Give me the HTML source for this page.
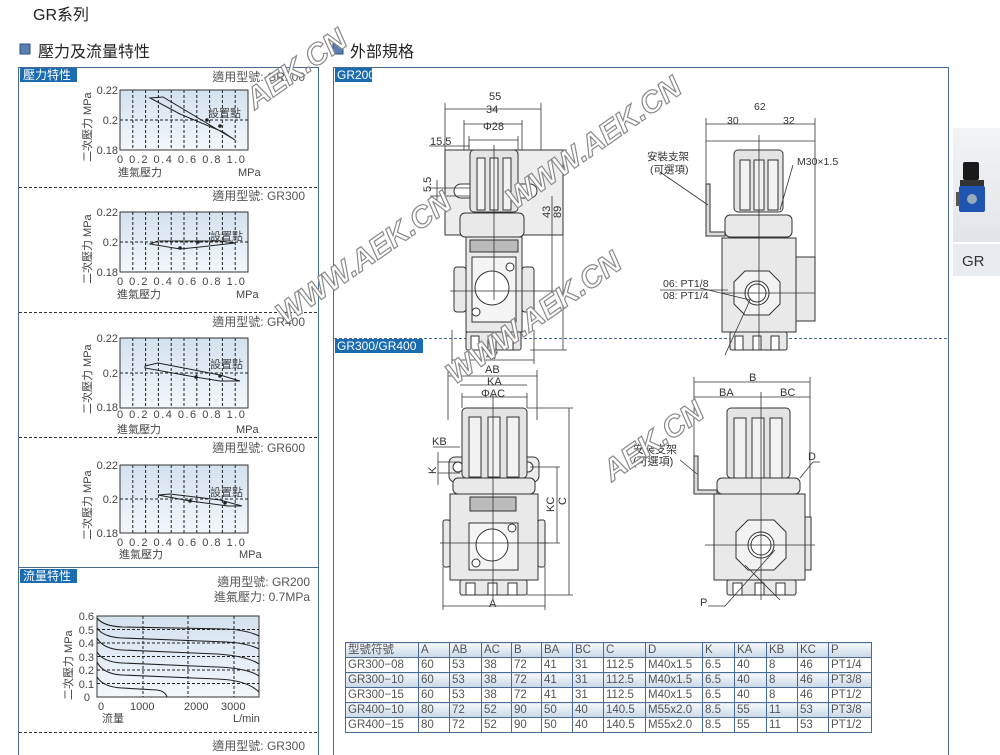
<!DOCTYPE html>
<html><head><meta charset="utf-8"><style>
html,body{margin:0;padding:0;background:#fff;}
body{width:1000px;height:755px;position:relative;overflow:hidden;font-family:"Liberation Sans","Noto Sans CJK TC",sans-serif;}
svg{position:absolute;left:0;top:0;}
svg text{font-family:"Liberation Sans","Noto Sans CJK TC",sans-serif;}
table{position:absolute;left:345px;top:642px;border-collapse:collapse;font-size:11.5px;color:#555;table-layout:fixed;}
td{border:1px solid #4a6a96;height:14px;padding:0 0 0 2px;line-height:14px;white-space:nowrap;overflow:hidden;}
tr.h td{background:linear-gradient(#f4f8fb,#c9d8e6);}
</style></head><body>
<svg width="1000" height="755" viewBox="0 0 1000 755">
<defs>
<linearGradient id="cg" x1="0" y1="0" x2="0" y2="1"><stop offset="0" stop-color="#d3e1ee"/><stop offset="1" stop-color="#f3f7fb"/></linearGradient>
<linearGradient id="sb" x1="0" y1="0" x2="0" y2="1"><stop offset="0" stop-color="#f2f3f5"/><stop offset="1" stop-color="#e2e5ea"/></linearGradient>
</defs>
<text x="33" y="20" font-size="16" fill="#222">GR系列</text>
<rect x="20" y="44" width="10" height="10" fill="#5b7fb2" stroke="#2d4f80"/>
<text x="38" y="57" font-size="16" fill="#222">壓力及流量特性</text>
<rect x="333" y="44" width="10" height="10" fill="#5b7fb2" stroke="#2d4f80"/>
<text x="350" y="57" font-size="16" fill="#222">外部規格</text>

<rect x="18.5" y="67.5" width="300" height="700" fill="none" stroke="#4a6a96"/>
<rect x="20" y="68" width="57" height="14" fill="#1a6bb0"/>
<text x="23" y="79" font-size="12" fill="#fff">壓力特性</text>
<g stroke="#333" stroke-dasharray="3,2" fill="none">
<line x1="19" y1="187.5" x2="318" y2="187.5"/><line x1="19" y1="312.5" x2="318" y2="312.5"/>
<line x1="19" y1="437.5" x2="318" y2="437.5"/><line x1="19" y1="732.5" x2="318" y2="732.5"/>
</g>
<line x1="19" y1="567.5" x2="318" y2="567.5" stroke="#4a6a96"/>

<g font-size="12" fill="#555" text-anchor="end">
<text x="305" y="81">適用型號: GR200</text>
<text x="305" y="200">適用型號: GR300</text>
<text x="305" y="326">適用型號: GR400</text>
<text x="305" y="452">適用型號: GR600</text>
<text x="310" y="586">適用型號: GR200</text>
<text x="310" y="601">進氣壓力: 0.7MPa</text>
<text x="305" y="750">適用型號: GR300</text>
</g>

<g transform="translate(120,90)">
<rect x="0" y="0" width="128" height="60" fill="url(#cg)" stroke="#333"/>
<g stroke="#222" stroke-dasharray="3,2"><line x1="12.8" y1="0" x2="12.8" y2="60"/><line x1="25.6" y1="0" x2="25.6" y2="60"/><line x1="38.4" y1="0" x2="38.4" y2="60"/><line x1="51.2" y1="0" x2="51.2" y2="60"/><line x1="64" y1="0" x2="64" y2="60"/><line x1="76.8" y1="0" x2="76.8" y2="60"/><line x1="89.6" y1="0" x2="89.6" y2="60"/><line x1="102.4" y1="0" x2="102.4" y2="60"/><line x1="115.2" y1="0" x2="115.2" y2="60"/><line x1="0" y1="30" x2="128" y2="30"/></g>
<path d="M30,8 L43,7 L115,50 L103,42 L60,24 L30,8Z" fill="none" stroke="#222"/>
<circle cx="87" cy="30" r="1.8" fill="#222"/><circle cx="100" cy="36" r="1.8" fill="#222"/>
<text x="88" y="27" font-size="11" fill="#444">設置點</text>
</g>
<g transform="translate(120,212)">
<rect x="0" y="0" width="128" height="60" fill="url(#cg)" stroke="#333"/>
<g stroke="#222" stroke-dasharray="3,2"><line x1="12.8" y1="0" x2="12.8" y2="60"/><line x1="25.6" y1="0" x2="25.6" y2="60"/><line x1="38.4" y1="0" x2="38.4" y2="60"/><line x1="51.2" y1="0" x2="51.2" y2="60"/><line x1="64" y1="0" x2="64" y2="60"/><line x1="76.8" y1="0" x2="76.8" y2="60"/><line x1="89.6" y1="0" x2="89.6" y2="60"/><line x1="102.4" y1="0" x2="102.4" y2="60"/><line x1="115.2" y1="0" x2="115.2" y2="60"/><line x1="0" y1="30" x2="128" y2="30"/></g>
<path d="M30,32 L38,29 L100,29 L115,31 L80,35 L60,37 L30,32Z" fill="none" stroke="#222"/>
<circle cx="78" cy="30" r="1.8" fill="#222"/><circle cx="60" cy="36" r="1.8" fill="#222"/>
<text x="90" y="28" font-size="11" fill="#444">設置點</text>
</g>
<g transform="translate(120,338)">
<rect x="0" y="0" width="128" height="70" fill="url(#cg)" stroke="#333"/>
<g stroke="#222" stroke-dasharray="3,2"><line x1="12.8" y1="0" x2="12.8" y2="70"/><line x1="25.6" y1="0" x2="25.6" y2="70"/><line x1="38.4" y1="0" x2="38.4" y2="70"/><line x1="51.2" y1="0" x2="51.2" y2="70"/><line x1="64" y1="0" x2="64" y2="70"/><line x1="76.8" y1="0" x2="76.8" y2="70"/><line x1="89.6" y1="0" x2="89.6" y2="70"/><line x1="102.4" y1="0" x2="102.4" y2="70"/><line x1="115.2" y1="0" x2="115.2" y2="70"/><line x1="0" y1="35" x2="128" y2="35"/></g>
<path d="M25,28 L38,25 L100,37 L120,43 L100,43 L75,39 L25,30Z" fill="none" stroke="#222"/>
<circle cx="76" cy="39" r="1.8" fill="#222"/><circle cx="100" cy="38" r="1.8" fill="#222"/>
<text x="90" y="30" font-size="11" fill="#444">設置點</text>
</g>
<g transform="translate(120,465)">
<rect x="0" y="0" width="128" height="68" fill="url(#cg)" stroke="#333"/>
<g stroke="#222" stroke-dasharray="3,2"><line x1="12.8" y1="0" x2="12.8" y2="68"/><line x1="25.6" y1="0" x2="25.6" y2="68"/><line x1="38.4" y1="0" x2="38.4" y2="68"/><line x1="51.2" y1="0" x2="51.2" y2="68"/><line x1="64" y1="0" x2="64" y2="68"/><line x1="76.8" y1="0" x2="76.8" y2="68"/><line x1="89.6" y1="0" x2="89.6" y2="68"/><line x1="102.4" y1="0" x2="102.4" y2="68"/><line x1="115.2" y1="0" x2="115.2" y2="68"/><line x1="0" y1="34" x2="128" y2="34"/></g>
<path d="M38,30 L50,29 L100,35 L122,41 L108,41 L70,36 L38,30Z" fill="none" stroke="#222"/>
<circle cx="70" cy="36" r="1.8" fill="#222"/><circle cx="105" cy="38" r="1.8" fill="#222"/>
<text x="90" y="31" font-size="11" fill="#444">設置點</text>
</g>

<g font-size="11" fill="#444">
<g text-anchor="end"><text x="118" y="94">0.22</text><text x="118" y="124">0.2</text><text x="118" y="154">0.18</text>
<text x="118" y="216">0.22</text><text x="118" y="246">0.2</text><text x="118" y="276">0.18</text>
<text x="118" y="342">0.22</text><text x="118" y="377">0.2</text><text x="118" y="411">0.18</text>
<text x="118" y="469">0.22</text><text x="118" y="503">0.2</text><text x="118" y="537">0.18</text></g>
<text x="117" y="163" letter-spacing="1.5">0  0.2  0.4  0.6  0.8  1.0</text><text x="118" y="176">進氣壓力</text><text x="238" y="176">MPa</text>
<text x="117" y="285" letter-spacing="1.5">0  0.2  0.4  0.6  0.8  1.0</text><text x="117" y="298">進氣壓力</text><text x="236" y="298">MPa</text>
<text x="117" y="418" letter-spacing="1.5">0  0.2  0.4  0.6  0.8  1.0</text><text x="117" y="433">進氣壓力</text><text x="236" y="433">MPa</text>
<text x="117" y="546" letter-spacing="1.5">0  0.2  0.4  0.6  0.8  1.0</text><text x="119" y="558">進氣壓力</text><text x="239" y="558">MPa</text>
<text transform="translate(91,162) rotate(-90)">二次壓力  MPa</text>
<text transform="translate(91,284) rotate(-90)">二次壓力  MPa</text>
<text transform="translate(91,414) rotate(-90)">二次壓力  MPa</text>
<text transform="translate(91,540) rotate(-90)">二次壓力  MPa</text>
<text transform="translate(72,700) rotate(-90)">二次壓力  MPa</text>
</g>

<rect x="20" y="569" width="57" height="14" fill="#1a6bb0"/>
<text x="23" y="580" font-size="12" fill="#fff">流量特性</text>
<g transform="translate(97,616)">
<rect x="0" y="0" width="162" height="81" fill="url(#cg)" stroke="#333"/>
<g stroke="#222" stroke-dasharray="3,2"><line x1="0" y1="13.5" x2="162" y2="13.5"/><line x1="0" y1="27" x2="162" y2="27"/><line x1="0" y1="40.5" x2="162" y2="40.5"/><line x1="0" y1="54" x2="162" y2="54"/><line x1="0" y1="67.5" x2="162" y2="67.5"/>
<line x1="46" y1="0" x2="46" y2="81"/><line x1="91" y1="0" x2="91" y2="81"/><line x1="137" y1="0" x2="137" y2="81"/></g>
<g fill="none" stroke="#222" stroke-width="1.1">
<path d="M0,2 Q6,10 25,11 L130,13 Q150,14 162,20"/>
<path d="M0,12 Q6,21 25,22 L130,26 Q150,27 162,33"/>
<path d="M0,22 Q6,33 25,34 L120,38 Q150,40 162,48"/>
<path d="M0,36 Q6,46 25,47 L120,51 Q150,52 162,60"/>
<path d="M0,46 Q6,58 25,59 L120,63 Q150,64 162,76"/>
<path d="M0,61 Q6,71 25,72 L60,74 Q68,75 70,81"/>
</g>
</g>
<g font-size="11" fill="#444" text-anchor="end">
<text x="94" y="620">0.6</text><text x="94" y="634">0.5</text><text x="94" y="647">0.4</text><text x="94" y="661">0.3</text><text x="94" y="674">0.2</text><text x="94" y="688">0.1</text><text x="90" y="701">0</text>
</g>
<g font-size="11" fill="#444"><text x="98" y="710">0</text><text x="130" y="710">1000</text><text x="184" y="710">2000</text><text x="221" y="710">3000</text><text x="102" y="722">流量</text><text x="233" y="722">L/min</text></g>

<rect x="333.5" y="67.5" width="615" height="700" fill="none" stroke="#4a6a96"/>
<rect x="335" y="68" width="37" height="14" fill="#1a6bb0"/>
<text x="337" y="79" font-size="12" fill="#fff">GR200</text>
<line x1="334" y1="338.5" x2="948" y2="338.5" stroke="#4a6a96" stroke-dasharray="3,2"/>
<rect x="335" y="339" width="88" height="14" fill="#1a6bb0"/>
<text x="337" y="350" font-size="12" fill="#fff">GR300/GR400</text>

<rect x="953" y="128" width="47" height="114" fill="url(#sb)"/>
<rect x="953" y="244" width="47" height="32" fill="#e8ebef"/>
<text x="962" y="266" font-size="15" fill="#333">GR</text>
<rect x="963" y="162" width="16" height="18" rx="2" fill="#1a1a1a"/>
<rect x="960" y="180" width="24" height="6" fill="#333"/>
<rect x="959" y="186" width="26" height="26" rx="2" fill="#1f55b0"/>
<rect x="956" y="192" width="4" height="14" fill="#555"/>
<circle cx="972" cy="199" r="5" fill="#9ab"/>

<g stroke="#333" stroke-width="1" fill="#e9e9e9">
<path d="M445,150 L563,150 L563,235 L445,235Z" fill="#ededed"/>
<rect x="454" y="184" width="25" height="14" rx="7" fill="#fff"/>
<rect x="512" y="184" width="25" height="14" rx="7" fill="#fff"/>
<rect x="470" y="150" width="48" height="62" rx="4" fill="#e4e4e4"/>
<rect x="477" y="158" width="8" height="52" fill="#f2f2f2"/><rect x="490" y="158" width="8" height="52" fill="#f2f2f2"/><rect x="503" y="158" width="8" height="52" fill="#f2f2f2"/>
<rect x="460" y="213" width="64" height="24" rx="5"/>
<rect x="466" y="237" width="56" height="95"/>
<rect x="454" y="267" width="12" height="45" rx="3"/>
<rect x="522" y="267" width="12" height="45" rx="3"/>
<rect x="472" y="257" width="44" height="65" fill="#f4f4f4"/>
<circle cx="492" cy="288" r="17" fill="#fff"/>
<circle cx="510" cy="267" r="4" fill="#fff"/><circle cx="476" cy="312" r="4" fill="#fff"/>
<rect x="466" y="332" width="55" height="18" rx="2"/>
<rect x="471" y="336" width="8" height="14" fill="#fff"/><rect x="488" y="336" width="8" height="14" fill="#fff"/><rect x="505" y="336" width="8" height="14" fill="#fff"/>
<rect x="470" y="240" width="48" height="12" fill="#bbb"/>
</g>
<g stroke="#333" stroke-width="0.8" fill="none">
<line x1="445" y1="103" x2="445" y2="150"/><line x1="541" y1="103" x2="541" y2="150"/><line x1="445" y1="109" x2="541" y2="109"/>
<line x1="464" y1="120" x2="464" y2="150"/><line x1="522" y1="120" x2="522" y2="150"/><line x1="464" y1="124" x2="522" y2="124"/>
<line x1="469" y1="136" x2="469" y2="150"/><line x1="518" y1="136" x2="518" y2="150"/><line x1="469" y1="140" x2="518" y2="140"/>
<line x1="429" y1="146" x2="470" y2="146"/><line x1="429" y1="188" x2="470" y2="188"/>
<line x1="437" y1="180" x2="437" y2="200"/><line x1="430" y1="196" x2="470" y2="196"/>
<line x1="540" y1="150" x2="567" y2="150"/><line x1="540" y1="291" x2="558" y2="291"/><line x1="530" y1="350" x2="567" y2="350"/>
<line x1="552" y1="196" x2="552" y2="291"/><line x1="563" y1="150" x2="563" y2="350"/>
<line x1="452" y1="330" x2="452" y2="364"/><line x1="534" y1="330" x2="534" y2="364"/><line x1="452" y1="360" x2="534" y2="360"/>
<line x1="494" y1="145" x2="494" y2="300"/><line x1="450" y1="291" x2="540" y2="291"/>
</g>
<g font-size="11" fill="#333">
<text x="489" y="100">55</text><text x="486" y="113">34</text><text x="483" y="130">Φ28</text><text x="430" y="145">15.5</text>
<text transform="translate(431,192) rotate(-90)">5.5</text>
<text transform="translate(550,218) rotate(-90)">43</text><text transform="translate(561,218) rotate(-90)">89</text>
<text x="486" y="359">47</text>
</g>

<g stroke="#333" stroke-width="1" fill="#e9e9e9">
<path d="M706,184 L710,184 L710,232 L725,232 L725,236 L706,236Z" fill="#ddd"/>
<rect x="734" y="150" width="49" height="62" rx="4" fill="#e4e4e4"/>
<rect x="740" y="160" width="10" height="50" fill="#f2f2f2"/><rect x="754" y="160" width="10" height="50" fill="#f2f2f2"/><rect x="768" y="160" width="10" height="50" fill="#f2f2f2"/>
<rect x="725" y="215" width="67" height="22" rx="5"/>
<rect x="722" y="238" width="74" height="94"/>
<rect x="796" y="257" width="19" height="64"/>
<polygon points="745,271 769,271 780,282 780,304 769,315 745,315 734,304 734,282" fill="#f2f2f2"/>
<circle cx="757" cy="293" r="12" fill="#fff"/><circle cx="757" cy="293" r="9" fill="none"/>
<rect x="730" y="332" width="57" height="18" rx="2"/>
<rect x="735" y="336" width="8" height="14" fill="#fff"/><rect x="753" y="336" width="8" height="14" fill="#fff"/><rect x="771" y="336" width="8" height="14" fill="#fff"/>
</g>
<g stroke="#333" stroke-width="0.8" fill="none">
<line x1="706" y1="118" x2="706" y2="184"/><line x1="815" y1="118" x2="815" y2="257"/><line x1="706" y1="124" x2="815" y2="124"/>
<line x1="706" y1="141" x2="815" y2="141"/><line x1="759" y1="135" x2="759" y2="350"/>
<line x1="722" y1="293" x2="815" y2="293"/>
<line x1="660" y1="172" x2="708" y2="205"/><line x1="793" y1="165" x2="780" y2="210"/>
<line x1="700" y1="288" x2="750" y2="300"/><line x1="750" y1="300" x2="725" y2="355"/>
<line x1="660" y1="290" x2="728" y2="290"/>
</g>
<g font-size="10.5" fill="#333">
<text x="754" y="110">62</text><text x="727" y="124">30</text><text x="783" y="124">32</text>
<text x="647" y="160">安裝支架</text><text x="650" y="173">(可選項)</text>
<text x="797" y="165">M30×1.5</text>
<text x="663" y="287">06: PT1/8</text><text x="663" y="299">08: PT1/4</text>
</g>

<g stroke="#333" stroke-width="1" fill="#e9e9e9">
<rect x="449" y="457" width="90" height="25" rx="6" fill="#ececec"/>
<circle cx="458" cy="467" r="5" fill="#fff"/><circle cx="528" cy="467" r="5" fill="#fff"/>
<rect x="462" y="408" width="65" height="70" rx="4" fill="#e4e4e4"/>
<rect x="469" y="417" width="12" height="60" fill="#f2f2f2"/><rect x="488" y="417" width="12" height="60" fill="#f2f2f2"/><rect x="507" y="417" width="12" height="60" fill="#f2f2f2"/>
<rect x="453" y="478" width="82" height="16" rx="5"/>
<rect x="450" y="494" width="88" height="86"/>
<rect x="443" y="520" width="7" height="47" rx="2"/><rect x="538" y="520" width="7" height="47" rx="2"/>
<rect x="469" y="523" width="49" height="47" fill="#f4f4f4"/>
<circle cx="492" cy="545" r="16" fill="#fff"/>
<circle cx="512" cy="528" r="4" fill="#fff"/><circle cx="476" cy="563" r="4" fill="#fff"/>
<rect x="470" y="497" width="46" height="14" fill="#bbb"/>
<rect x="460" y="580" width="67" height="15" rx="2"/>
<rect x="466" y="583" width="9" height="12" fill="#fff"/><rect x="488" y="583" width="9" height="12" fill="#fff"/><rect x="508" y="583" width="9" height="12" fill="#fff"/>
</g>
<g stroke="#333" stroke-width="0.8" fill="none">
<line x1="448" y1="370" x2="448" y2="420"/><line x1="537" y1="370" x2="537" y2="420"/><line x1="448" y1="376" x2="537" y2="376"/>
<line x1="460" y1="385" x2="527" y2="385"/><line x1="462" y1="397" x2="527" y2="397"/><line x1="462" y1="393" x2="462" y2="408"/><line x1="527" y1="393" x2="527" y2="408"/>
<line x1="493" y1="395" x2="493" y2="600"/>
<line x1="527" y1="408" x2="573" y2="408"/><line x1="569" y1="408" x2="569" y2="595"/><line x1="527" y1="595" x2="573" y2="595"/>
<line x1="530" y1="467" x2="560" y2="467"/><line x1="557" y1="467" x2="557" y2="543"/><line x1="540" y1="543" x2="560" y2="543"/>
<line x1="443" y1="567" x2="443" y2="610"/><line x1="545" y1="567" x2="545" y2="610"/><line x1="443" y1="606" x2="545" y2="606"/>
<line x1="433" y1="447" x2="460" y2="447"/><line x1="438" y1="462" x2="460" y2="462"/><line x1="438" y1="473" x2="460" y2="473"/>
<line x1="438" y1="452" x2="438" y2="485"/>
<line x1="440" y1="543" x2="548" y2="543"/>
</g>
<g font-size="11" fill="#333">
<text x="485" y="373">AB</text><text x="487" y="385">KA</text><text x="481" y="397">ΦAC</text>
<text x="432" y="445">KB</text><text transform="translate(436,474) rotate(-90)">K</text>
<text transform="translate(554,512) rotate(-90)">KC</text><text transform="translate(566,505) rotate(-90)">C</text>
<text x="489" y="607">A</text>
</g>

<g stroke="#333" stroke-width="1" fill="#e9e9e9">
<path d="M694,456 L698,456 L698,490 L717,490 L717,494 L694,494Z" fill="#ddd"/>
<rect x="727" y="408" width="63" height="70" rx="4" fill="#e4e4e4"/>
<rect x="734" y="418" width="12" height="60" fill="#f2f2f2"/><rect x="752" y="418" width="12" height="60" fill="#f2f2f2"/><rect x="770" y="418" width="12" height="60" fill="#f2f2f2"/>
<rect x="717" y="478" width="83" height="16" rx="5"/>
<rect x="714" y="494" width="91" height="86"/>
<rect x="805" y="517" width="6" height="53"/>
<polygon points="748,520 774,520 786,532 786,558 774,570 748,570 736,558 736,532" fill="#f2f2f2"/>
<circle cx="761" cy="545" r="13" fill="#fff"/><circle cx="761" cy="545" r="10" fill="none"/>
<rect x="727" y="580" width="69" height="15" rx="2"/>
<rect x="733" y="583" width="9" height="12" fill="#fff"/><rect x="755" y="583" width="9" height="12" fill="#fff"/><rect x="776" y="583" width="9" height="12" fill="#fff"/>
</g>
<g stroke="#333" stroke-width="0.8" fill="none">
<line x1="694" y1="377" x2="694" y2="456"/><line x1="810" y1="377" x2="810" y2="517"/><line x1="694" y1="382" x2="810" y2="382"/>
<line x1="694" y1="397" x2="810" y2="397"/><line x1="761" y1="392" x2="761" y2="600"/>
<line x1="705" y1="545" x2="815" y2="545"/>
<line x1="680" y1="460" x2="697" y2="474"/>
<line x1="780" y1="600" x2="745" y2="565"/>
<line x1="708" y1="606" x2="725" y2="606"/><line x1="725" y1="606" x2="775" y2="550"/>
<line x1="800" y1="478" x2="813" y2="462"/><line x1="813" y1="462" x2="820" y2="462"/>
</g>
<g font-size="11" fill="#333">
<text x="749" y="381">B</text><text x="719" y="396">BA</text><text x="780" y="396">BC</text>
<text x="633" y="453">安裝支架</text><text x="633" y="465">(可選項)</text>
<text x="808" y="460">D</text><text x="700" y="606">P</text>
</g>

<g font-size="30" font-weight="bold" font-style="italic" fill="#fff" stroke="#8a8a8a" stroke-width="1.2" font-family="Liberation Sans, sans-serif">
<text transform="translate(255,110) rotate(-35)">AEK.CN</text>
<text transform="translate(515,210) rotate(-35)">WWW.AEK.CN</text>
<text transform="translate(285,325) rotate(-35)">WWW.AEK.CN</text>
<text transform="translate(455,385) rotate(-35)">WWW.AEK.CN</text>
<text transform="translate(612,482) rotate(-35)">AEK.CN</text>
</g>
</svg>

<table>
<colgroup><col style="width:73px"><col style="width:31px"><col style="width:32px"><col style="width:30px"><col style="width:30px"><col style="width:31px"><col style="width:31px"><col style="width:42px"><col style="width:57px"><col style="width:32px"><col style="width:32px"><col style="width:31px"><col style="width:31px"><col style="width:43px"></colgroup>
<tr class="h"><td>型號符號</td><td>A</td><td>AB</td><td>AC</td><td>B</td><td>BA</td><td>BC</td><td>C</td><td>D</td><td>K</td><td>KA</td><td>KB</td><td>KC</td><td>P</td></tr>
<tr><td>GR300−08</td><td>60</td><td>53</td><td>38</td><td>72</td><td>41</td><td>31</td><td>112.5</td><td>M40x1.5</td><td>6.5</td><td>40</td><td>8</td><td>46</td><td>PT1/4</td></tr>
<tr class="h"><td>GR300−10</td><td>60</td><td>53</td><td>38</td><td>72</td><td>41</td><td>31</td><td>112.5</td><td>M40x1.5</td><td>6.5</td><td>40</td><td>8</td><td>46</td><td>PT3/8</td></tr>
<tr><td>GR300−15</td><td>60</td><td>53</td><td>38</td><td>72</td><td>41</td><td>31</td><td>112.5</td><td>M40x1.5</td><td>6.5</td><td>40</td><td>8</td><td>46</td><td>PT1/2</td></tr>
<tr class="h"><td>GR400−10</td><td>80</td><td>72</td><td>52</td><td>90</td><td>50</td><td>40</td><td>140.5</td><td>M55x2.0</td><td>8.5</td><td>55</td><td>11</td><td>53</td><td>PT3/8</td></tr>
<tr><td>GR400−15</td><td>80</td><td>72</td><td>52</td><td>90</td><td>50</td><td>40</td><td>140.5</td><td>M55x2.0</td><td>8.5</td><td>55</td><td>11</td><td>53</td><td>PT1/2</td></tr>
</table>
</body></html>
